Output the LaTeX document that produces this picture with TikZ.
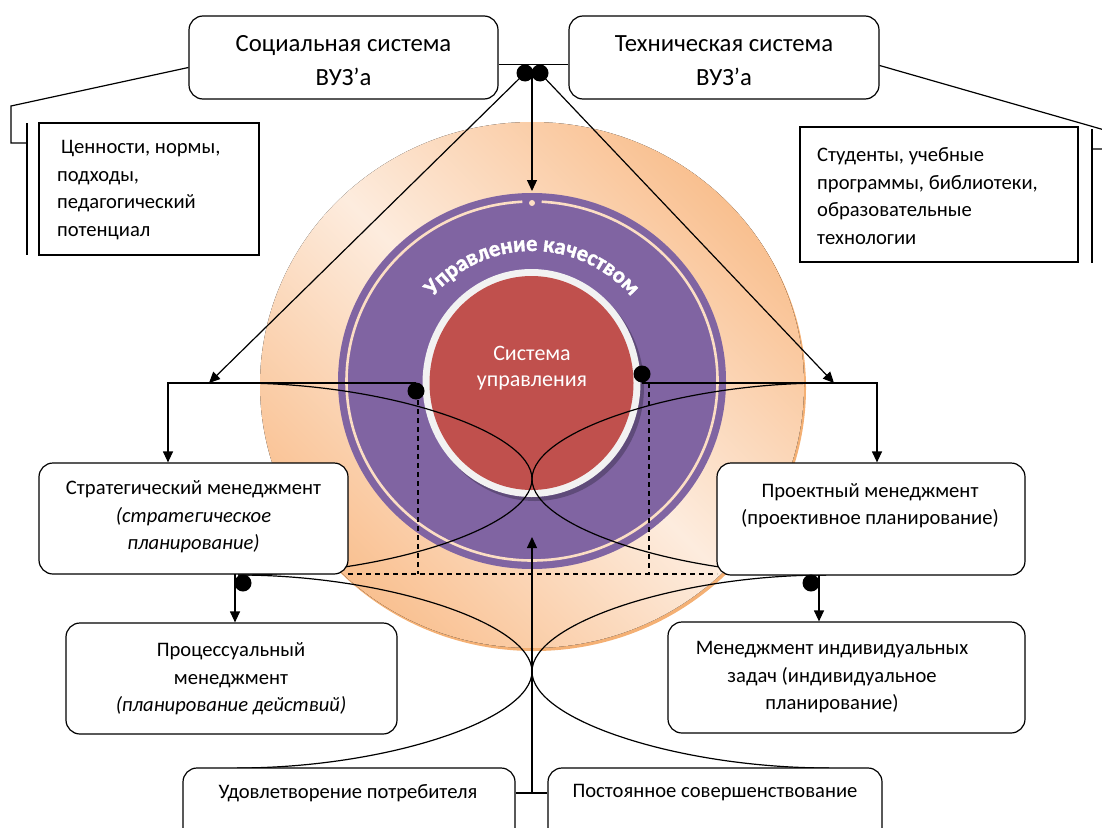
\documentclass[tikz,border=0pt]{standalone}
\usepackage{fontspec}
\setmainfont{Carlito}
\newfontfamily\arcfont[FakeBold=1.6]{Carlito Bold}
\usetikzlibrary{arrows.meta,decorations.text}
\definecolor{peach}{RGB}{249,192,144}
\definecolor{peachpale}{RGB}{253,236,222}
\definecolor{peachedge}{RGB}{244,176,116}
\definecolor{qpurple}{RGB}{128,100,162}
\definecolor{qred}{RGB}{192,80,77}
\definecolor{ringpeach}{RGB}{252,222,196}
\definecolor{whitering}{RGB}{242,242,242}
\definecolor{shadowp}{RGB}{95,75,122}
\begin{document}
\begin{tikzpicture}[x=1pt,y=-1pt,
  rbox/.style={draw, line width=1.2pt, rounded corners=14pt, fill=white, inner sep=0pt},
  sbox/.style={draw, line width=1.2pt, fill=white, inner sep=0pt},
  txt/.style={inner sep=0pt, align=center, font=\fontsize{20.6}{27.5}\selectfont},
  toptxt/.style={inner sep=0pt, align=center, font=\fontsize{24.7}{34}\selectfont},
  conn/.style={line width=1.2pt},
  arr/.style={conn, -{Triangle[length=11pt,width=10pt]}},
  dotnode/.style={circle, fill=black, inner sep=0pt, minimum size=17pt},
  dashedline/.style={line width=1.2pt, dash pattern=on 5pt off 4pt},
  curve/.style={line width=1.2pt}
]
\useasboundingbox (0,0) rectangle (1102,827);
\clip (0,0) rectangle (1102,827);

% ---- circles ----
\fill[peachedge] (534,388) ellipse[x radius=272, y radius=263];
\fill[top color=peach, bottom color=peach, middle color=peachpale, shading angle=-45]
  (532,385) ellipse[x radius=272, y radius=263];
\fill[qpurple] (532,381) ellipse[x radius=194, y radius=188];
\draw[ringpeach, line width=2.6pt] (532,381) ++(-87:185.5 and 179.5)
  arc[start angle=-87, end angle=267, x radius=185.5, y radius=179.5];
\fill[ringpeach] (532,203) circle[radius=3];
\fill[shadowp] (535,387) ellipse[x radius=109, y radius=114];
\fill[whitering] (531.5,383) ellipse[x radius=109, y radius=114];
\fill[qred] (531.5,383) ellipse[x radius=102, y radius=107];
\node[txt, text=white, font=\fontsize{22}{26}\selectfont] (sysT) at (532,368) {Система\\управления};
\path[decorate, decoration={text along path, text align=center,
   text={|\color{white}\arcfont\fontsize{22.5}{25}\selectfont|Управление качеством}}]
  (532,381) ++(-152:130) arc[start angle=-152, end angle=-28, radius=130];

% ---- coordinates ----
\coordinate (tipL) at (209,383);
\coordinate (tipR) at (834,383);
\coordinate (tipC) at (532,191);
\coordinate (hl) at (168,383);
\coordinate (hr) at (877,383);
\coordinate (bl) at (235,574);
\coordinate (br) at (819,575);

% ---- curves ----
\draw[curve] (238,383) .. controls (385,383) and (532,431) .. (532,479)
   .. controls (532,527) and (679,575) .. (826,575);
\draw[curve] (826,383) .. controls (679,383) and (532,431) .. (532,479)
   .. controls (532,527) and (385,575) .. (238,575);
\draw[curve] (238,575) .. controls (385,575) and (532,623) .. (532,671.5)
   .. controls (532,720) and (679,768) .. (829,768);
\draw[curve] (826,575) .. controls (679,575) and (532,623) .. (532,671.5)
   .. controls (532,720) and (385,768) .. (237,768);

% ---- dashed ----
\draw[dashedline] (418,391) -- (418,574);
\draw[dashedline] (649,383) -- (649,574);
\draw[dashedline] (348,574) -- (717,574);

% ---- boxes ----
\node[rbox, minimum width=309pt, minimum height=83pt] (socB) at (343.5,57.5) {};
\node[rbox, minimum width=310pt, minimum height=83pt] (tecB) at (724,57.5) {};
\node[sbox, minimum width=220pt, minimum height=132pt] (cenB) at (149,189) {};
\node[sbox, minimum width=278pt, minimum height=135pt] (stuB) at (939,194.5) {};
\node[rbox, minimum width=309pt, minimum height=111pt] (strB) at (193.5,518.5) {};
\node[rbox, minimum width=308pt, minimum height=112pt] (proB) at (871,519) {};
\node[rbox, minimum width=331pt, minimum height=111pt] (prcB) at (231.5,678.5) {};
\node[rbox, minimum width=357pt, minimum height=111pt] (indB) at (846.5,677.5) {};
\node[rbox, minimum width=332pt, minimum height=100pt] (udB) at (349,818) {};
\node[rbox, minimum width=334pt, minimum height=100pt] (posB) at (715,818) {};

% ---- texts ----
\node[toptxt] (socT) at (343.5,61) {Социальная система\\ВУЗ’а};
\node[toptxt] (tecT) at (724,61) {Техническая система\\ВУЗ’а};
\node[txt, align=left, anchor=west] (cenT) at (57,190) {\hspace{4pt}Ценности, нормы,\\подходы,\\педагогический\\потенциал};
\node[txt, align=left, anchor=west] (stuT) at (817,196) {Студенты, учебные\\программы, библиотеки,\\образовательные\\технологии};
\node[txt] (strT) at (193.5,517) {Стратегический менеджмент\\\textit{(стратегическое}\\\textit{планирование)}};
\node[txt] (proT) at (870,505.5) {Проектный менеджмент\\(проективное планирование)};
\node[txt] (prcT) at (231,679) {Процессуальный\\менеджмент\\\textit{(планирование действий)}};
\node[txt] (indT) at (832,677.5) {Менеджмент индивидуальных\\задач (индивидуальное\\планирование)};
\node[txt] (udT) at (348,793) {Удовлетворение потребителя};
\node[txt] (posT) at (715,793) {Постоянное совершенствование};

% ---- dots ----
\node[dotnode] (d1) at (525,73) {};
\node[dotnode] (d2) at (540,73) {};
\node[dotnode] (d3) at (416,391) {};
\node[dotnode] (d4) at (642,374) {};
\node[dotnode] (d5) at (243,583) {};
\node[dotnode] (d6) at (811,583) {};

% ---- connectors ----
\draw[conn] ([yshift=-7pt]socB.east) -- ([yshift=-7pt]tecB.west);
\draw[conn] ([yshift=-10pt]socB.west) -- (11,106) -- (11,143) -- (27,143);
\draw[conn] (27,123) -- (27,255);
\draw[conn] ([yshift=-8pt]tecB.east) -- (1108,131) -- (1108,149) -- (1092,149);
\draw[conn] (1092,129) -- (1092,263);
\draw[arr] (d1.center) -- (tipL);
\draw[arr] (d2.center) -- (tipR);
\draw[arr] (532,73) -- (tipC);
\draw[arr] (d3.center |- hl) -- (hl) -- (hl |- strB.north);
\draw[arr] (d4.center |- hr) -- (hr) -- (hr |- proB.north);
\draw[arr] (bl) -- (bl |- prcB.north);
\draw[arr] (br) -- (br |- indB.north);
\draw[conn] (udB.east |- udT) -- (posB.west |- posT);
\draw[arr] (532,792) -- (532,537);
\end{tikzpicture}
\end{document}
